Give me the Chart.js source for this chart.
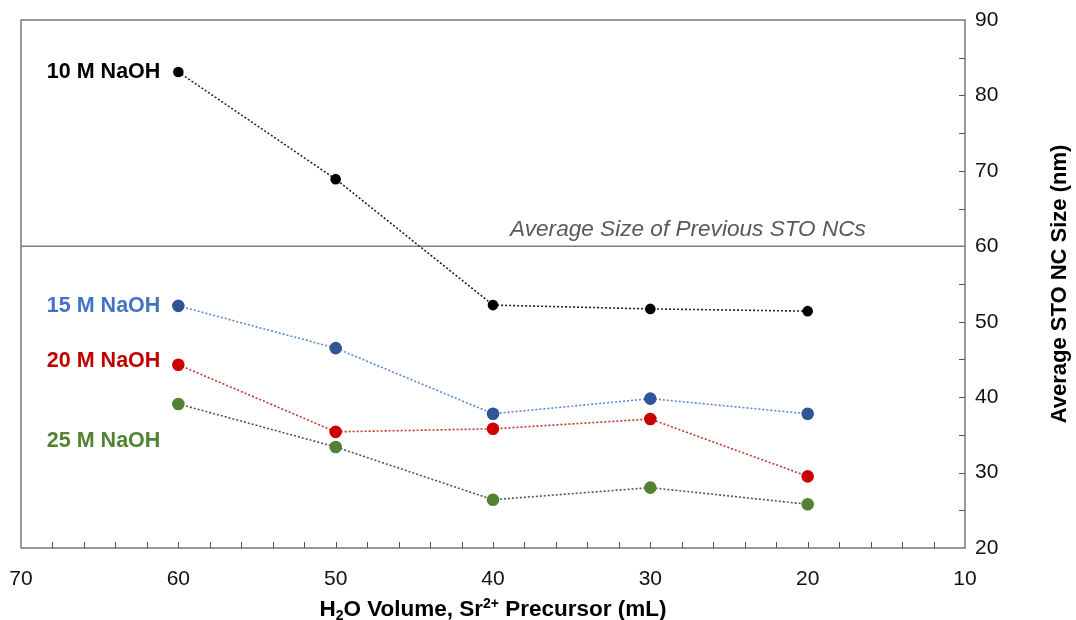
<!DOCTYPE html>
<html>
<head>
<meta charset="utf-8">
<script src="https://cdn.jsdelivr.net/npm/chart.js@4/dist/chart.umd.min.js"></script>
<style>
  html, body { margin: 0; padding: 0; background: #ffffff; }
  #wrap { width: 1076px; height: 620px; }
</style>
</head>
<body>
<div id="wrap"><canvas id="c" width="1076" height="620"></canvas></div>
<script>
// H2O volume of the Sr2+ precursor (mL)
const volumes = [60, 50, 40, 30, 20];
// Average STO nanocrystal size (nm) for each NaOH concentration
const size10M = [83.1, 68.9, 52.2, 51.7, 51.4];
const size15M = [52.1, 46.5, 37.8, 39.8, 37.8];
const size20M = [44.3, 35.4, 35.8, 37.1, 29.5];
const size25M = [39.1, 33.4, 26.4, 28.0, 25.8];
const seriesNames = ['10 M NaOH', '15 M NaOH', '20 M NaOH', '25 M NaOH'];
// Reference level: average size of earlier STO NCs
const previousAverage = 60;
const previousAverageText = 'Average Size of Previous STO NCs';
const previousAverageSpan = [70, 10];
// Axis ranges and tick steps
const xRange = [10, 70];
const yRange = [20, 90];
const xMinorStep = 2, xLabelStep = 10;
const yMinorStep = 5, yLabelStep = 10;

const FONT = '"Liberation Sans", Arial, sans-serif';

// Series styling (kept apart from the values)
const styles = [
  { point: '#000000', line: '#222222', text: '#000000', radius: 4.5, labelDy: 0 },
  { point: '#2f5597', line: '#5a8ad0', text: '#4472c4', radius: 5.5, labelDy: 0 },
  { point: '#cc0000', line: '#c0392b', text: '#c00000', radius: 5.5, labelDy: -4 },
  { point: '#548235', line: '#4d5a45', text: '#548235', radius: 5.5, labelDy: 37 }
];
const seriesValues = [size10M, size15M, size20M, size25M];

const datasets = seriesValues.map((vals, i) => ({
  label: seriesNames[i],
  data: volumes.map((v, k) => ({ x: v, y: vals[k] })),
  showLine: true,
  borderColor: styles[i].line,
  borderWidth: 1.6,
  borderDash: [2, 2],
  pointBackgroundColor: styles[i].point,
  pointBorderColor: styles[i].point,
  pointRadius: styles[i].radius,
  pointHoverRadius: styles[i].radius,
  order: 1
}));

datasets.push({
  label: previousAverageText,
  data: previousAverageSpan.map(x => ({ x: x, y: previousAverage })),
  showLine: true,
  borderColor: '#7f7f7f',
  borderWidth: 1.6,
  pointRadius: 0,
  order: 2
});

const frameColor = '#808080';

const chartDecor = {
  id: 'chartDecor',
  beforeDatasetsDraw(chart) {
    const { ctx, chartArea: a, scales: { x, y } } = chart;
    ctx.save();
    ctx.strokeStyle = frameColor;
    ctx.lineWidth = 1.6;
    ctx.strokeRect(a.left, a.top, a.right - a.left, a.bottom - a.top);
    // inward tick marks
    ctx.strokeStyle = '#555555';
    ctx.lineWidth = 1;
    ctx.beginPath();
    x.ticks.forEach(t => {
      if (t.value <= xRange[0] || t.value >= xRange[1]) return;
      const px = Math.round(x.getPixelForValue(t.value)) + 0.5;
      ctx.moveTo(px, a.bottom);
      ctx.lineTo(px, a.bottom - 6);
    });
    y.ticks.forEach(t => {
      if (t.value <= yRange[0] || t.value >= yRange[1]) return;
      const py = Math.round(y.getPixelForValue(t.value)) + 0.5;
      ctx.moveTo(a.right, py);
      ctx.lineTo(a.right - 6, py);
    });
    ctx.stroke();
    ctx.restore();
  },
  afterDatasetsDraw(chart) {
    const { ctx, scales: { x, y } } = chart;
    ctx.save();
    // series labels beside the first point of each series
    ctx.font = 'bold 21.5px ' + FONT;
    ctx.textAlign = 'right';
    ctx.textBaseline = 'middle';
    seriesValues.forEach((vals, i) => {
      const px = x.getPixelForValue(volumes[0]) - 18;
      const py = y.getPixelForValue(vals[0]) + styles[i].labelDy;
      ctx.fillStyle = styles[i].text;
      ctx.fillText(seriesNames[i], px, py);
    });
    // reference-line caption
    ctx.font = 'italic 22.6px ' + FONT;
    ctx.fillStyle = '#595959';
    ctx.textAlign = 'right';
    ctx.textBaseline = 'alphabetic';
    ctx.fillText(previousAverageText, x.getPixelForValue(16.3), y.getPixelForValue(previousAverage) - 10);
    ctx.restore();
  },
  afterDraw(chart) {
    const { ctx, chartArea: a } = chart;
    ctx.save();
    ctx.fillStyle = '#000000';
    // x-axis title with subscript and superscript
    const parts = [
      { t: 'H', s: 22.5, dy: 0 },
      { t: '2', s: 14, dy: 4 },
      { t: 'O Volume, Sr', s: 22.5, dy: 0 },
      { t: '2+', s: 14, dy: -8 },
      { t: ' Precursor (mL)', s: 22.5, dy: 0 }
    ];
    let total = 0;
    parts.forEach(p => { ctx.font = 'bold ' + p.s + 'px ' + FONT; p.w = ctx.measureText(p.t).width; total += p.w; });
    let cx = (a.left + a.right) / 2 - total / 2;
    const base = 616;
    ctx.textAlign = 'left';
    ctx.textBaseline = 'alphabetic';
    parts.forEach(p => {
      ctx.font = 'bold ' + p.s + 'px ' + FONT;
      ctx.fillText(p.t, cx, base + p.dy);
      cx += p.w;
    });
    // y-axis title
    ctx.translate(1066, (a.top + a.bottom) / 2);
    ctx.rotate(-Math.PI / 2);
    ctx.font = 'bold 22px ' + FONT;
    ctx.textAlign = 'center';
    ctx.textBaseline = 'alphabetic';
    ctx.fillText('Average STO NC Size (nm)', 0, 0);
    ctx.restore();
  }
};

new Chart(document.getElementById('c'), {
  type: 'scatter',
  data: { datasets },
  options: {
    responsive: false,
    animation: false,
    devicePixelRatio: 1,
    layout: { padding: { left: 21, top: 20, right: 0, bottom: 0 } },
    plugins: { legend: { display: false }, tooltip: { enabled: false } },
    scales: {
      x: {
        type: 'linear',
        reverse: true,
        min: xRange[0],
        max: xRange[1],
        grid: { display: false, drawTicks: false },
        border: { display: false },
        ticks: {
          stepSize: xMinorStep,
          autoSkip: false,
          maxRotation: 0,
          padding: 19,
          color: '#111111',
          font: { family: FONT, size: 21 },
          callback: v => (v % xLabelStep === 0 ? String(v) : '')
        },
        afterFit: s => { s.height = 72; s.paddingLeft = 0; s.paddingRight = 0; }
      },
      y: {
        position: 'right',
        min: yRange[0],
        max: yRange[1],
        grid: { display: false, drawTicks: false },
        border: { display: false },
        ticks: {
          stepSize: yMinorStep,
          autoSkip: false,
          padding: 10,
          color: '#111111',
          font: { family: FONT, size: 21 },
          callback: v => (v % yLabelStep === 0 ? String(v) : '')
        },
        afterFit: s => { s.width = 111; s.paddingTop = 0; s.paddingBottom = 0; }
      }
    }
  },
  plugins: [chartDecor]
});
</script>
</body>
</html>
